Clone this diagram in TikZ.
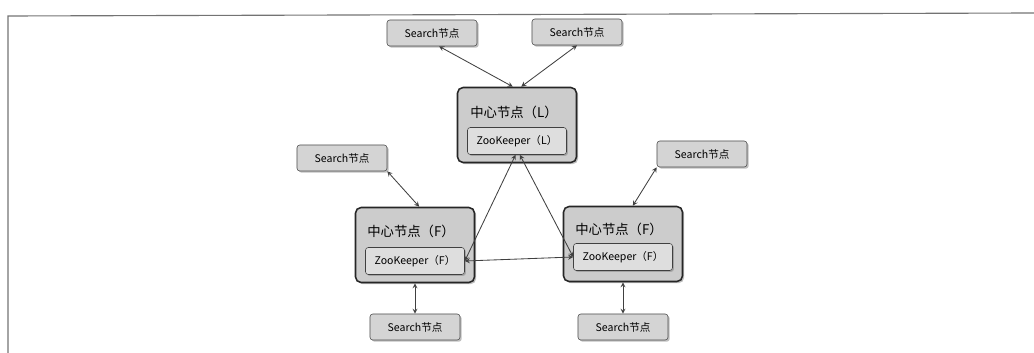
\documentclass[tikz,border=0pt]{standalone}
\usepackage{fontspec}
\setmainfont{Noto Sans CJK SC}
\usetikzlibrary{positioning,shadows,arrows}

\begin{document}
\begin{tikzpicture}[
  x=0.025cm, y=-0.025cm,
  search/.style = {draw=black!70, fill=black!17, rounded corners=2pt,
                   minimum width=2.25cm, minimum height=0.65cm, inner sep=1pt,
                   font=\fontsize{7.5}{8}\selectfont,
                   drop shadow={shadow xshift=1.2pt, shadow yshift=-1.2pt,
                                fill=black!50}},
  center/.style = {draw=black!85, line width=1.1pt, fill=black!20,
                   rounded corners=4pt,
                   minimum width=2.975cm, minimum height=1.875cm,
                   drop shadow={shadow xshift=1.2pt, shadow yshift=-1.2pt,
                                fill=black!50}},
  zk/.style     = {draw=black!75, fill=black!13, rounded corners=2pt,
                   minimum width=2.475cm, minimum height=0.675cm, inner sep=1pt,
                   font=\fontsize{7.5}{8}\selectfont,
                   drop shadow={shadow xshift=1pt, shadow yshift=-1pt,
                                fill=black!50}},
  title/.style  = {anchor=west, inner sep=0pt, font=\fontsize{9.5}{10}\selectfont},
  link/.style   = {<->, >=stealth, draw=black!75, semithick},
]
\useasboundingbox (0,0) rectangle (1034,353);
% page frame of the scan
\draw[black!55, thick] (8,353) -- (8,16) -- (1034,13);

% leader
\node[center] (leader) at (517,125) {};
\node[title]  (leaderT) at (470,112) {中心节点（L）};
\node[zk]     (zkL) at (517,141) {ZooKeeper（L）};

% followers
\node[center] (followA) at (415,245) {};
\node[title]  (followAT) at (367,231) {中心节点（F）};
\node[zk]     (zkA) at (415,261) {ZooKeeper（F）};

\node[center] (followB) at (623,244) {};
\node[title]  (followBT) at (575,229) {中心节点（F）};
\node[zk]     (zkB) at (623,257) {ZooKeeper（F）};

% search nodes
\node[search] (s1) at (432,33)  {Search节点};
\node[search] (s2) at (577,32)  {Search节点};
\node[search] (s3) at (342,158) {Search节点};
\node[search] (s4) at (702,154) {Search节点};
\node[search] (s5) at (415,327) {Search节点};
\node[search] (s6) at (623,327) {Search节点};

\draw[link] ([xshift=5]s1.south) -- ([xshift=-3]leader.north);
\draw[link] (s2.south) -- ([xshift=3]leader.north);
\draw[link] (s3.south east) -- ([xshift=3]followA.north);
\draw[link] (s4.south west) -- ([xshift=7]followB.north);
\draw[link] (followA.south) -- (s5.north);
\draw[link] (followB.south) -- (s6.north);

\draw[link] ([xshift=-1]zkL.south) -- (zkA.east);
\draw[link] ([xshift=2]zkL.south) -- (zkB.west);
\draw[link] (zkA.east) -- (zkB.west);
\end{tikzpicture}
\end{document}
